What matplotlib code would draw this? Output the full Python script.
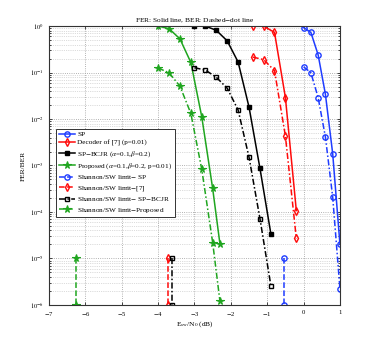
import matplotlib as mpl
mpl.use('Agg')
import matplotlib.pyplot as plt
from matplotlib.ticker import FixedLocator, NullFormatter

plt.rcParams['font.family'] = ['Liberation Serif', 'DejaVu Serif']
plt.rcParams['mathtext.fontset'] = 'stix'

# SP
sp_x = [0.0, 0.2, 0.4, 0.6, 0.8, 1.0]
sp_fer = [0.93, 0.73, 0.24, 0.034, 1.8e-3, 2.0e-5]
sp_ber = [0.133, 0.099, 0.029, 4.1e-3, 2.1e-4, 2.2e-6]
sp_lim = -0.55

# Decoder of [7]
dec_x = [-1.4, -1.1, -0.8, -0.5, -0.2]
dec_fer = [1.0, 1.0, 0.73, 0.029, 1.07e-4]
dec_ber = [0.215, 0.19, 0.11, 4.3e-3, 2.7e-5]
dec_lim = -3.74

# SP-BCJR
bcjr_x = [-3.0, -2.7, -2.4, -2.1, -1.8, -1.5, -1.2, -0.9]
bcjr_fer = [1.0, 1.0, 0.81, 0.48, 0.168, 0.018, 8.7e-4, 3.4e-5]
bcjr_ber = [0.127, 0.113, 0.079, 0.046, 0.0156, 1.5e-3, 7.2e-5, 2.6e-6]
bcjr_lim = -3.62

# Proposed
prop_x = [-4.0, -3.7, -3.4, -3.1, -2.8, -2.5, -2.3]
prop_fer = [1.0, 0.88, 0.53, 0.165, 0.0112, 3.2e-4, 2.05e-5]
prop_ber = [0.125, 0.099, 0.051, 0.0132, 8.3e-4, 2.2e-5, 1.2e-6]
prop_lim = -6.26

lim_y = [1e-5, 1e-6]

x_ticks = list(range(-7, 2))
y_exps = list(range(-6, 1))

blue = '#1f3cff'
red = '#ff0a0a'
green = '#1fa51f'
black = 'k'

fig = plt.figure(figsize=(3.74, 3.43), dpi=100)
ax = fig.add_axes([0.131, 0.111, 0.778, 0.813])

lw = 1.1
ms = 3.8
dashdot = (0, (4, 1.5, 1, 1.5))
ax.plot(sp_x, sp_fer, '-o', color=blue, lw=lw, ms=ms, mfc='none', mew=1.0, label='SP')
ax.plot(dec_x, dec_fer, '-d', color=red, lw=lw, ms=ms, mfc='none', mew=1.0, label='Decoder of [7] (p=0.01)')
ax.plot(bcjr_x, bcjr_fer, '-s', color=black, lw=lw, ms=3.0, mfc=black, mew=1.0,
        label=r'SP$-$BCJR ($\alpha$=0.1,$\beta$=0.2)')
ax.plot(prop_x, prop_fer, '-*', color=green, lw=lw, ms=5.5, mfc=green, mew=0.8,
        label=r'Proposed ($\alpha$=0.1,$\beta$=0.2, p=0.01)')

ax.plot(sp_x, sp_ber, marker='o', ls=dashdot, color=blue, lw=lw, ms=ms, mfc='none', mew=1.0)
ax.plot(dec_x, dec_ber, marker='d', ls=dashdot, color=red, lw=lw, ms=ms, mfc='none', mew=1.0)
ax.plot(bcjr_x, bcjr_ber, marker='s', ls=dashdot, color=black, lw=lw, ms=3.0, mfc='none', mew=1.0)
ax.plot(prop_x, prop_ber, marker='*', ls=dashdot, color=green, lw=lw, ms=5.5, mfc=green, mew=0.8)

ax.plot([sp_lim] * 2, lim_y, '--o', color=blue, lw=lw, ms=ms, mfc='none', mew=1.0,
        label=r'Shannon/SW limit$-$ SP')
ax.plot([dec_lim] * 2, lim_y, '--d', color=red, lw=lw, ms=ms, mfc='none', mew=1.0,
        label=r'Shannon/SW limit$-$[7]')
ax.plot([bcjr_lim] * 2, lim_y, marker='s', ls=dashdot, color=black, lw=lw, ms=3.0, mfc='none', mew=1.0,
        label=r'Shannon/SW limit$-$ SP$-$BCJR')
ax.plot([prop_lim] * 2, lim_y, '--*', color=green, lw=lw, ms=5.5, mfc=green, mew=0.8,
        label=r'Shannon/SW limit$-$Proposed')

ax.set_yscale('log')
ax.set_xlim(-7, 1)
ax.set_ylim(1e-6, 1)
ax.set_xticks(x_ticks)
ax.set_xticklabels([r'$-$%d' % -v if v < 0 else '%d' % v for v in x_ticks])
ax.set_yticks([10.0 ** e for e in y_exps])
ax.set_yticklabels([r'$10^{%d}$' % e for e in y_exps])
ax.yaxis.set_minor_locator(FixedLocator([m * 10.0 ** e for e in y_exps[:-1] for m in range(2, 10)]))
ax.yaxis.set_minor_formatter(NullFormatter())

ax.grid(True, which='major', ls=':', color='#999999', lw=0.6)
ax.grid(True, which='minor', axis='y', ls=':', color='#bbbbbb', lw=0.5)
ax.tick_params(which='both', direction='in', labelsize=4.8, top=True, right=True, length=2.5, width=0.5)
ax.tick_params(which='minor', length=1.5)
for s in ax.spines.values():
    s.set_linewidth(0.8)
    s.set_color('#333333')

ax.set_title('FER: Solid line, BER: Dashed$-$dot line', fontsize=5.3, pad=3)
ax.set_xlabel(r'E$_{\mathrm{sw}}$/N$_0$ (dB)', fontsize=5.3, labelpad=1)
ax.set_ylabel('FER/BER', fontsize=5.3, labelpad=3)

leg = ax.legend(loc='upper left', bbox_to_anchor=(0.012, 0.645), fontsize=5.2,
                frameon=True, fancybox=False, edgecolor='#333333', framealpha=1,
                handlelength=2.3, handletextpad=0.3, borderpad=0.35, labelspacing=0.35)
leg.get_frame().set_linewidth(0.7)

plt.savefig('out.png', dpi=100)
